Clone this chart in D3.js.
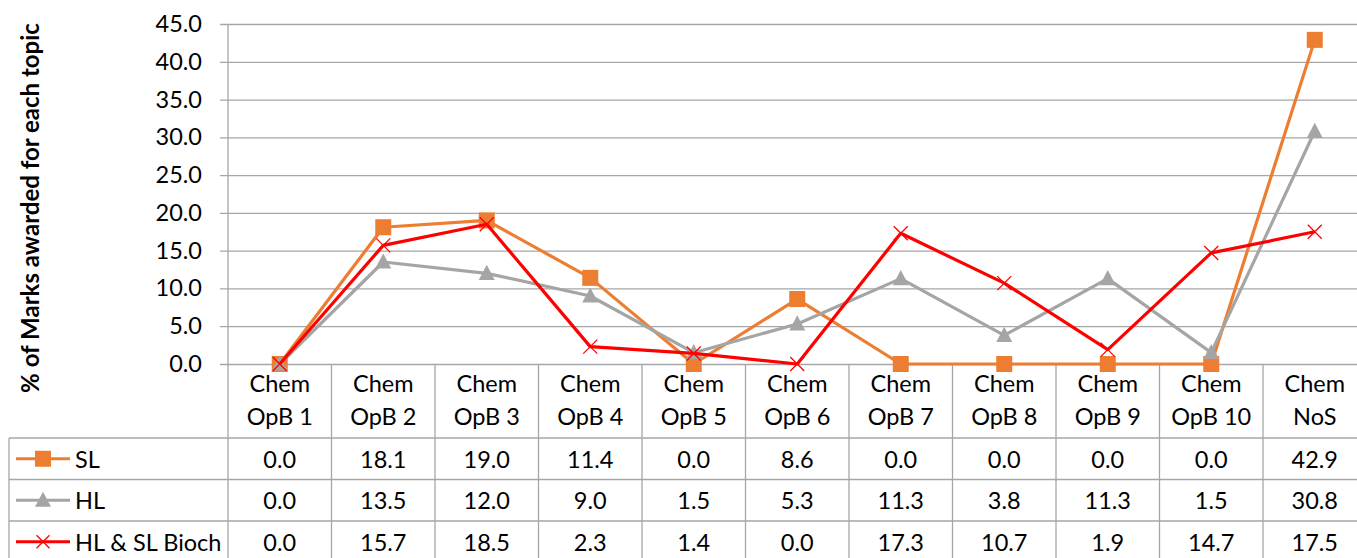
<!DOCTYPE html>
<html>
<head>
<meta charset="utf-8">
<script src="https://cdn.jsdelivr.net/npm/d3@7"></script>
<style>
  body { margin: 0; background: #fff; }
  svg { display: block; font-family: Lato, "Open Sans", sans-serif; }
</style>
</head>
<body>
<svg id="chart" width="1357" height="558"></svg>
<script>
// Chart data
const categories = ['Chem OpB 1', 'Chem OpB 2', 'Chem OpB 3', 'Chem OpB 4', 'Chem OpB 5',
    'Chem OpB 6', 'Chem OpB 7', 'Chem OpB 8', 'Chem OpB 9', 'Chem OpB 10', 'Chem NoS'];
const slValues = [0.0, 18.1, 19.0, 11.4, 0.0, 8.6, 0.0, 0.0, 0.0, 0.0, 42.9];
const hlValues = [0.0, 13.5, 12.0, 9.0, 1.5, 5.3, 11.3, 3.8, 11.3, 1.5, 30.8];
const biochValues = [0.0, 15.7, 18.5, 2.3, 1.4, 0.0, 17.3, 10.7, 1.9, 14.7, 17.5];
const yTicks = [0, 5, 10, 15, 20, 25, 30, 35, 40, 45];
const seriesNames = ['SL', 'HL', 'HL & SL Bioch'];

const series = [
    { name: seriesNames[0], values: slValues, color: '#ED7D31', marker: 'square' },
    { name: seriesNames[1], values: hlValues, color: '#A5A5A5', marker: 'triangle' },
    { name: seriesNames[2], values: biochValues, color: '#FF0000', marker: 'x' }
];

const svg = d3.select('#chart');
const gridColor = '#A6A6A6';
const fontSize = 23.5;

// Layout
const plotLeft = 228, plotTop = 24, plotBottom = 364;
const colWidth = 103.5;
const tableLeft = 9;
const rowBounds = [438, 479.5, 521, 562.5];

const x = d3.scaleBand()
    .domain(categories)
    .range([plotLeft, plotLeft + colWidth * categories.length])
    .padding(0);

const y = d3.scaleLinear()
    .domain([0, 45])
    .range([plotBottom, plotTop]);

// Gridlines + tick labels
const yAxis = d3.axisLeft(y)
    .tickValues(yTicks)
    .tickSize(-(x.range()[1] - plotLeft))
    .tickPadding(26)
    .tickFormat(d3.format('.1f'));

const yg = svg.append('g')
    .attr('transform', `translate(${plotLeft},0)`)
    .call(yAxis);
yg.select('.domain').remove();
yg.selectAll('.tick line')
    .attr('x1', -8)
    .attr('stroke', gridColor)
    .attr('stroke-width', 1.3);
yg.selectAll('.tick text')
    .attr('font-size', fontSize)
    .attr('font-family', 'Lato, sans-serif')
    .attr('fill', '#000');

// Y axis line (runs down through the table)
svg.append('line')
    .attr('x1', plotLeft).attr('x2', plotLeft)
    .attr('y1', plotTop).attr('y2', rowBounds[3])
    .attr('stroke', gridColor).attr('stroke-width', 1.3);

// Y axis title
svg.append('text')
    .attr('transform', 'translate(29,208) rotate(-90)')
    .attr('text-anchor', 'middle')
    .attr('dominant-baseline', 'central')
    .attr('font-size', 24)
    .attr('font-weight', 'bold')
    .text('% of Marks awarded for each topic');

// Data table grid
const table = svg.append('g').attr('class', 'table');
categories.forEach(c => {
    table.append('line')
        .attr('x1', x(c) + x.bandwidth()).attr('x2', x(c) + x.bandwidth())
        .attr('y1', plotBottom).attr('y2', rowBounds[3])
        .attr('stroke', gridColor).attr('stroke-width', 1.3);
});
rowBounds.forEach(ry => {
    table.append('line')
        .attr('x1', tableLeft).attr('x2', x.range()[1])
        .attr('y1', ry).attr('y2', ry)
        .attr('stroke', gridColor).attr('stroke-width', 1.3);
});
table.append('line')
    .attr('x1', tableLeft).attr('x2', tableLeft)
    .attr('y1', rowBounds[0]).attr('y2', rowBounds[3])
    .attr('stroke', gridColor).attr('stroke-width', 1.3);

// Category header (two lines)
const header = table.selectAll('.cat')
    .data(categories)
    .enter()
    .append('text')
    .attr('class', 'cat')
    .attr('text-anchor', 'middle')
    .attr('font-size', fontSize)
    .attr('fill', '#000');
header.append('tspan')
    .attr('x', d => x(d) + x.bandwidth() / 2)
    .attr('y', 392)
    .text(d => d.split(' ')[0]);
header.append('tspan')
    .attr('x', d => x(d) + x.bandwidth() / 2)
    .attr('y', 425)
    .text(d => d.split(' ').slice(1).join(' '));

// Marker drawing helper
function drawMarker(g, type, color, size) {
    if (type === 'square') {
        g.append('rect')
            .attr('x', -size / 2).attr('y', -size / 2)
            .attr('width', size).attr('height', size)
            .attr('fill', color);
    } else if (type === 'triangle') {
        const h = size * 0.95;
        g.append('path')
            .attr('d', `M0,${-h / 2 - 1}L${size / 2},${h / 2 - 1}L${-size / 2},${h / 2 - 1}Z`)
            .attr('fill', color);
    } else {
        const r = size / 2;
        g.append('path')
            .attr('d', `M${-r},${-r}L${r},${r}M${-r},${r}L${r},${-r}`)
            .attr('stroke', color)
            .attr('stroke-width', 1.3)
            .attr('fill', 'none');
    }
}

// Table values and legend keys
series.forEach((s, i) => {
    const ty = (rowBounds[i] + rowBounds[i + 1]) / 2;
    const key = table.append('g').attr('transform', `translate(43,${ty})`);
    key.append('line')
        .attr('x1', -27).attr('x2', 27)
        .attr('stroke', s.color).attr('stroke-width', 3);
    drawMarker(key, s.marker, s.color, s.marker === 'x' ? 13 : 16);
    table.append('text')
        .attr('x', 75).attr('y', ty)
        .attr('dominant-baseline', 'central')
        .attr('font-size', fontSize)
        .text(s.name);
    table.selectAll(null)
        .data(s.values)
        .enter()
        .append('text')
        .attr('x', (d, j) => x(categories[j]) + x.bandwidth() / 2)
        .attr('y', ty)
        .attr('text-anchor', 'middle')
        .attr('dominant-baseline', 'central')
        .attr('font-size', fontSize)
        .text(d => d3.format('.1f')(d));
});

// Lines and markers
const line = d3.line()
    .x((d, j) => x(categories[j]) + x.bandwidth() / 2)
    .y(d => y(d));

series.forEach(s => {
    const g = svg.append('g').attr('class', 'series');
    g.append('path')
        .datum(s.values)
        .attr('d', line)
        .attr('fill', 'none')
        .attr('stroke', s.color)
        .attr('stroke-width', 3.2)
        .attr('stroke-linejoin', 'round');
    g.selectAll('.pt')
        .data(s.values)
        .enter()
        .append('g')
        .attr('class', 'pt')
        .attr('transform', (d, j) => `translate(${x(categories[j]) + x.bandwidth() / 2},${y(d)})`)
        .each(function () {
            drawMarker(d3.select(this), s.marker, s.color, s.marker === 'x' ? 14 : 16);
        });
});
</script>
</body>
</html>
